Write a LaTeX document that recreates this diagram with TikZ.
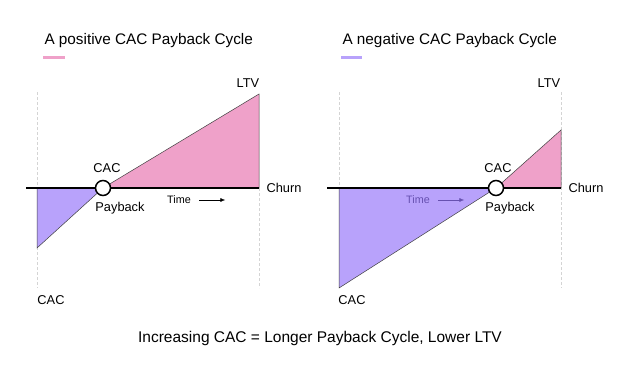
\documentclass[tikz,border=0pt]{standalone}
\usepackage{fontspec}
\setmainfont{Liberation Sans}
\usetikzlibrary{arrows.meta}

\definecolor{pinkfill}{HTML}{EFA1C9}
\definecolor{purplefill}{HTML}{B8A2FB}
\definecolor{timepurple}{HTML}{6650B0}
\definecolor{guide}{HTML}{D4D4D4}

\tikzset{
  title/.style={anchor=west, font=\fontsize{15.3}{18}\selectfont},
  lbl/.style={font=\fontsize{12.8}{15}\selectfont},
  small/.style={font=\fontsize{10.8}{13}\selectfont},
  guideline/.style={guide, densely dashed, line width=0.8pt},
  axis/.style={black, line width=1.8pt},
  edge/.style={black!75, line width=0.5pt},
  payback/.style={circle, draw=black, fill=white, line width=1.5pt, minimum size=15pt, inner sep=0pt}
}

\begin{document}
\begin{tikzpicture}[x=1pt,y=-1pt]
\useasboundingbox (0,0) rectangle (624,372);

% left: positive cycle
\node[title] (tl) at (41,41) {A positive CAC Payback Cycle};
\draw[pinkfill, line width=3pt] (43,57) -- (65,57);
\coordinate (la) at (37,92);
\coordinate (lb) at (37,288);
\coordinate (ra) at (259,188);
\coordinate (rb) at (259,288);
\draw[guideline] (la) -- (lb);
\draw[guideline] (ra) -- (rb);
\coordinate (p1) at (103,188);
\coordinate (ltv1) at (259,94);
\coordinate (cac1) at (37,248);
\fill[pinkfill] (p1) -- (ltv1) -- (ra) -- cycle;
\fill[purplefill] (37,188) -- (p1) -- (cac1) -- cycle;
\draw[edge] (p1) -- (ltv1) -- (ra);
\draw[edge] (37,188) -- (cac1) -- (p1);
\draw[axis] (26,188) -- (ra);
\node[payback] (c1) at (p1) {};
\node[lbl] (ltvl1) at (248,83) {LTV};
\node[lbl] (cacu1) at (107,168) {CAC};
\node[lbl] (pb1) at (120,208) {Payback};
\node[lbl, anchor=west] (ch1) at (263,188) {Churn};
\node[lbl] (cacd1) at (51,300) {CAC};
\node[small] (t1) at (179,200) {Time};
\draw[-{Latex[length=5pt,width=4pt]}, line width=0.6pt] (t1.east)++(5,0) -- ++(26,0);

% right: negative cycle
\node[title] (tr) at (339,41) {A negative CAC Payback Cycle};
\draw[purplefill, line width=3pt] (341,57) -- (362,57);
\coordinate (la2) at (339,92);
\coordinate (lb2) at (339,188);
\coordinate (ra2) at (561,92);
\coordinate (rb2) at (561,288);
\draw[guideline] (la2) -- (lb2);
\draw[guideline] (ra2) -- (rb2);
\coordinate (p2) at (496,188);
\coordinate (ltv2) at (561,130);
\coordinate (cac2) at (339,288);
\fill[pinkfill] (p2) -- (ltv2) -- (561,188) -- cycle;
\fill[purplefill] (339,188) -- (p2) -- (cac2) -- cycle;
\draw[edge] (p2) -- (ltv2) -- (561,188);
\draw[edge] (339,188) -- (cac2) -- (p2);
\draw[axis] (327,188) -- (561,188);
\node[payback] (c2) at (p2) {};
\node[lbl] (ltvl2) at (549,83) {LTV};
\node[lbl] (cacu2) at (498,168) {CAC};
\node[lbl] (pb2) at (510,208) {Payback};
\node[lbl, anchor=west] (ch2) at (565,188) {Churn};
\node[lbl] (cacd2) at (352,300) {CAC};
\node[small, timepurple] (t2) at (418,200) {Time};
\draw[timepurple, -{Latex[length=5pt,width=4pt]}, line width=0.6pt] (t2.east)++(5,0) -- ++(26,0);

% caption
\node[font=\fontsize{15.5}{18}\selectfont] (cap) at (320,338) {Increasing CAC = Longer Payback Cycle, Lower LTV};
\end{tikzpicture}
\end{document}
